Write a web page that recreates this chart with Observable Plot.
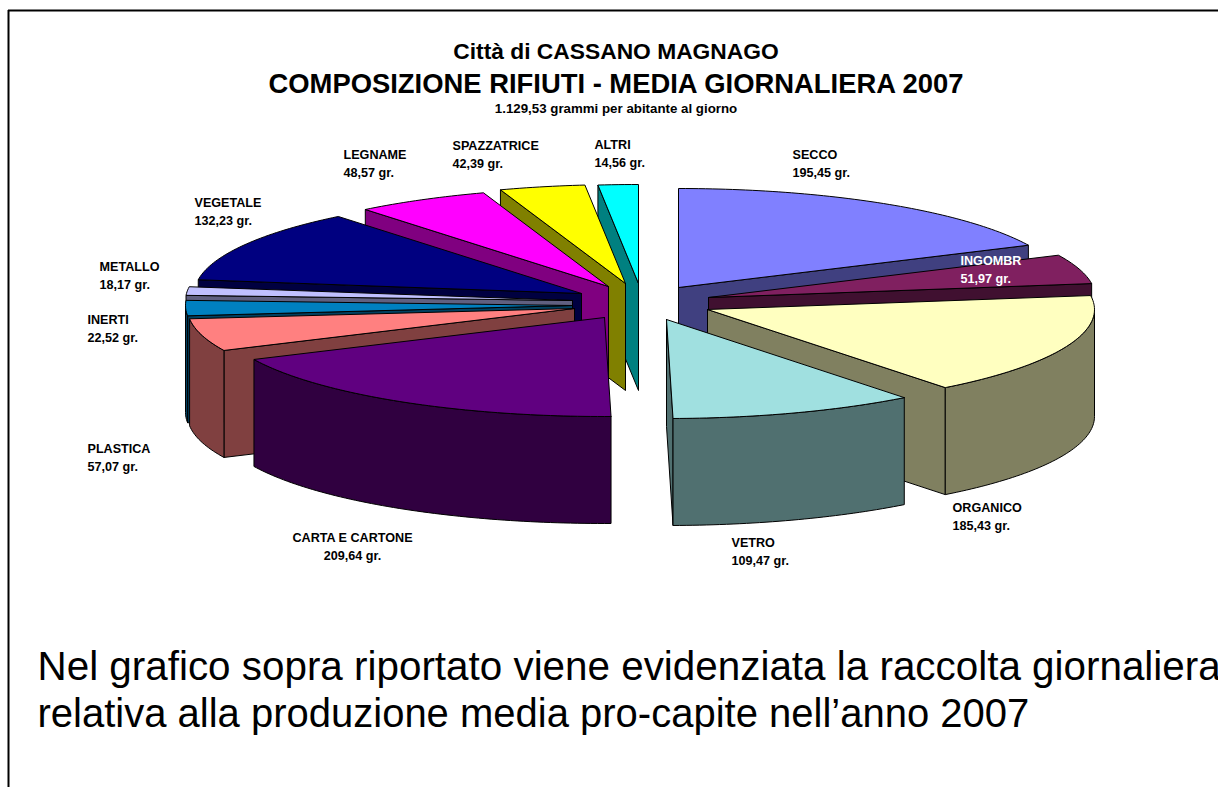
<!DOCTYPE html>
<html>
<head>
<meta charset="utf-8">
<script src="https://cdn.jsdelivr.net/npm/d3@7"></script>
<script src="https://cdn.jsdelivr.net/npm/@observablehq/plot@0.6"></script>
<style>html,body{margin:0;padding:0;background:#fff;overflow:hidden}svg{display:block}</style>
</head>
<body>
<div id="chart"></div>
<script>
// Data, clockwise from 12 o'clock
const categories = ["SECCO","INGOMBR","ORGANICO","VETRO","CARTA E CARTONE","PLASTICA","INERTI","METALLO","VEGETALE","LEGNAME","SPAZZATRICE","ALTRI"];
const grams = [195.45,51.97,185.43,109.47,209.64,57.07,22.52,18.17,132.23,48.57,42.39,14.56];
const titleLines = ["Città di CASSANO MAGNAGO","COMPOSIZIONE RIFIUTI - MEDIA GIORNALIERA 2007","1.129,53 grammi per abitante al giorno"];
const captionLines = ["Nel grafico sopra riportato viene evidenziata la raccolta giornaliera","relativa alla produzione media pro-capite nell’anno 2007"];

// Styles
const topColors = ["#8080FF","#802060","#FFFFC0","#A0E0E0","#600080","#FF8080","#0080C0","#C0C0FF","#000080","#FF00FF","#FFFF00","#00FFFF"];
const sideColors = ["#404080","#401030","#808060","#507070","#300040","#804040","#004060","#606080","#000040","#800080","#808000","#008080"];
const labelColors = categories.map(c => c === "INGOMBR" ? "#fff" : "#000");

// Layout: exploded apex of each slice, pie projection, label placement, painter's order
const apexX = [678,708,707,666,604,574,572,572,581,608,625,638];
const apexY = [287,297,309,319,317,308,305,300,293,286,283,283];
const rx = 387, ry = 99, depth = 107;
// small angular correction (degrees) of each slice's closing edge: the reference's 3D view skews angles
const viewSkew = [0,0,-1.2,-0.5,-4,-3.8,-2.3,-3.3,-4,0,-1.2,0];
const labelX = [792,960,952,731,352,87,87,99,194,343,452,594];
const labelY = [146,252,499,534,529,440,311,258,194,146,137,136];
const labelAnchor = categories.map(c => c === "CARTA E CARTONE" ? "middle" : "start");
const paintOrder = [0,11,10,9,8,7,6,5,1,2,3,4];

const total = d3.sum(grams);
const linear = d3.cumsum(grams).map(v => v / total * 360);
const ends = linear.map((v, i) => v + viewSkew[i]);
const starts = [0, ...ends];
const rad = d => d * Math.PI / 180;
const faces = [];
function pushFace(id, fill, pts) {
  [...pts, pts[0]].forEach(([x, y]) => faces.push({id, fill, x, y}));
}
for (const i of paintOrder) {
  const a = starts[i], b = ends[i], cx = apexX[i], cy = apexY[i];
  const pt = t => [cx + rx * Math.sin(rad(t)), cy - ry * Math.cos(rad(t))];
  const down = ([x, y]) => [x, y + depth];
  const apex = [cx, cy];
  if (Math.sin(rad(a)) < 0) { const p = pt(a); pushFace(i + "s", sideColors[i], [apex, p, down(p), down(apex)]); }
  if (Math.sin(rad(b)) > 0) { const p = pt(b); pushFace(i + "e", sideColors[i], [apex, p, down(p), down(apex)]); }
  const lo = Math.max(a, 90), hi = Math.min(b, 270);
  if (hi > lo) {
    const arc = d3.range(lo, hi, 1).concat(hi).map(pt);
    pushFace(i + "w", sideColors[i], [...arc, ...arc.slice().reverse().map(down)]);
  }
  const top = d3.range(a, b, 1).concat(b).map(pt);
  pushFace(i + "t", topColors[i], [apex, ...top]);
}

const labels = categories.map((c, i) => ({
  text: c + "\n" + grams[i].toFixed(2).replace(".", ",") + " gr.",
  x: labelX[i], y: labelY[i], color: labelColors[i], anchor: labelAnchor[i]
}));
const font = "Liberation Sans";
const titleRows = [
  {t: titleLines[0], y: 51, s: 22.8},
  {t: titleLines[1], y: 84, s: 27.4},
  {t: titleLines[2], y: 108, s: 13.3}
];
const captionRows = [{t: captionLines[0], y: 667, s: 40.4}, {t: captionLines[1], y: 714, s: 40}];

const chart = Plot.plot({
  width: 1218, height: 787, margin: 0,
  x: {domain: [0, 1218], range: [0, 1218], axis: null},
  y: {domain: [0, 787], range: [0, 787], axis: null},
  marks: [
    Plot.ruleX([8], {y1: 10, y2: 787, stroke: "#000", strokeWidth: 2}),
    Plot.ruleY([10], {x1: 8, x2: 1218, stroke: "#000", strokeWidth: 2}),
    Plot.line(faces, {x: "x", y: "y", z: "id", fill: "fill", stroke: "#000", strokeWidth: 1, curve: "linear"}),
    Plot.text(titleRows, {x: 615.5, y: "y", text: "t", fontSize: "s", fontWeight: "bold", fontFamily: font, fill: "#000", textAnchor: "middle"}),
    ...["start", "middle"].map(anchor => Plot.text(labels.filter(d => d.anchor === anchor), {
      x: "x", y: "y", text: "text", fill: "color", fontSize: 12.6, fontWeight: "bold", fontFamily: font,
      textAnchor: anchor, lineAnchor: "top", lineHeight: 1.4
    })),
    Plot.text(captionRows, {x: 37, y: "y", text: "t", fontSize: "s", fontFamily: font, fill: "#000", textAnchor: "start"})
  ]
});
document.getElementById("chart").append(chart);
</script>
</body>
</html>
